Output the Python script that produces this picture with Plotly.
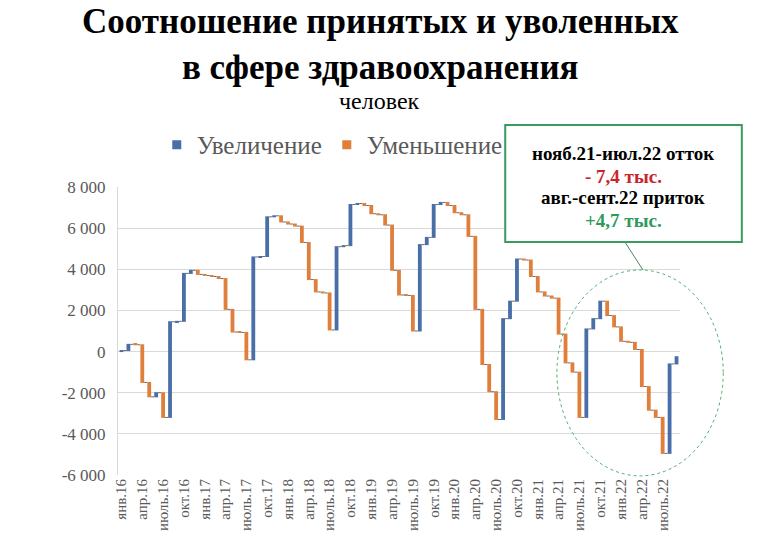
import plotly.graph_objects as go

# monthly change of staff (hired minus dismissed), persons
chg_2016 = [50, 300, -20, -1830, -700, 200, -1200, 4650, 20, 2330, 150, -200]
chg_2017 = [-50, -50, -100, -1500, -1100, -20, -1330, 5000, 20, 1930, 50, -300]
chg_2018 = [-100, -100, -800, -1800, -600, -50, -1800, 4050, 50, 2000, 50, -100]
chg_2019 = [-400, -50, -500, -2200, -1200, -20, -1730, 4200, 350, 1600, 100, -150]
chg_2020 = [-350, -100, -1050, -3550, -2680, -1320, -1350, 4900, 850, 2050, -50, -800]
chg_2021 = [-750, -200, -100, -1750, -1400, -450, -2200, 4300, 500, 850, -700, -550]
chg_2022 = [-700, -50, -350, -1800, -1150, -350, -1750, 4350, 350]

month_names = ["янв", "фев", "мар", "апр", "май", "июнь",
               "июль", "авг", "сент", "окт", "нояб", "дек"]
years = ["16", "17", "18", "19", "20", "21", "22"]

y_ticks = [-6000, -4000, -2000, 0, 2000, 4000, 6000, 8000]
y_tick_text = ["-6 000", "-4 000", "-2 000", "0", "2 000", "4 000", "6 000", "8 000"]

changes = chg_2016 + chg_2017 + chg_2018 + chg_2019 + chg_2020 + chg_2021 + chg_2022
labels = [m + "." + yy for yy in years for m in month_names][:len(changes)]
shown_labels = labels[::3]

BLUE = "#4a6ea8"
ORANGE = "#e07f3c"
SERIF = "Liberation Serif"

fig = go.Figure()

fig.add_trace(go.Waterfall(
    x=labels,
    y=changes,
    measure=["relative"] * len(changes),
    increasing=dict(marker=dict(color=BLUE)),
    decreasing=dict(marker=dict(color=ORANGE)),
    connector=dict(line=dict(color="#6b6b6b", width=1, dash="dot")),
    width=0.55,
    showlegend=False,
))

# legend entries
for name, col in [("Увеличение", BLUE), ("Уменьшение", ORANGE)]:
    fig.add_trace(go.Scatter(
        x=[None], y=[None], mode="markers", name=name,
        marker=dict(symbol="square", size=9, color=col),
    ))

# title (two lines) and unit
fig.add_annotation(text="<b>Соотношение принятых и уволенных<br>в сфере здравоохранения</b>",
                   xref="paper", yref="paper", x=0.467, y=1.648, xanchor="center", yanchor="top",
                   showarrow=False, font=dict(family=SERIF, size=35, color="black"))
fig.add_annotation(text="человек", xref="paper", yref="paper",
                   x=0.466, y=1.300, xanchor="center", yanchor="middle", showarrow=False,
                   font=dict(family=SERIF, size=24, color="black"))

# ellipse around the latest period and callout
fig.add_shape(type="circle", xref="paper", yref="paper", x0=0.781, x1=1.077, y0=-0.003, y1=0.712,
              line=dict(color="#4caf6e", width=1, dash="dot"))
fig.add_shape(type="line", xref="paper", yref="paper", x0=0.902, y0=0.809, x1=0.934, y1=0.712,
              line=dict(color="#4f7f68", width=1))
fig.add_shape(type="rect", xref="paper", yref="paper", x0=0.689, x1=1.110, y0=0.809, y1=1.215,
              line=dict(color="#3a9a62", width=2), fillcolor="white")

box_lines = [
    ("<b>нояб.21-июл.22 отток</b>", "black", 1.115),
    ("<b>- 7,4 тыс.</b>", "#c8262d", 1.037),
    ("<b>авг.-сент.22 приток</b>", "black", 0.962),
    ("<b>+4,7 тыс.</b>", "#2e9a5c", 0.885),
]
for txt, col, yy in box_lines:
    fig.add_annotation(text=txt, xref="paper", yref="paper", x=0.899, y=yy,
                       xanchor="center", yanchor="middle", showarrow=False,
                       font=dict(family=SERIF, size=19, color=col))

fig.update_layout(
    width=767, height=548,
    margin=dict(l=118, r=87, t=187, b=73),
    plot_bgcolor="white", paper_bgcolor="white",
    font=dict(family=SERIF, color="#595959"),
    legend=dict(orientation="h", x=0.069, y=1.146, xanchor="left", yanchor="middle",
                font=dict(family=SERIF, size=25, color="#595959"),
                itemwidth=30, bgcolor="rgba(0,0,0,0)"),
    xaxis=dict(type="category", tickmode="array", tickvals=shown_labels, ticktext=shown_labels,
               tickangle=-90, tickfont=dict(family=SERIF, size=15, color="#595959"),
               showgrid=False, showline=False, ticks=""),
    yaxis=dict(range=[-6000, 8000], tickvals=y_ticks, ticktext=y_tick_text,
               tickfont=dict(family=SERIF, size=17, color="#595959"),
               gridcolor="#d9d9d9", gridwidth=1, zeroline=False,
               showline=True, linecolor="#d9d9d9", ticks="", ticklabelstandoff=8),
)

# drop the default page margin so the figure sits at the window's corner
fig.write_html("out.html", config={"displayModeBar": False},
               post_script="document.body.style.margin='0';")
